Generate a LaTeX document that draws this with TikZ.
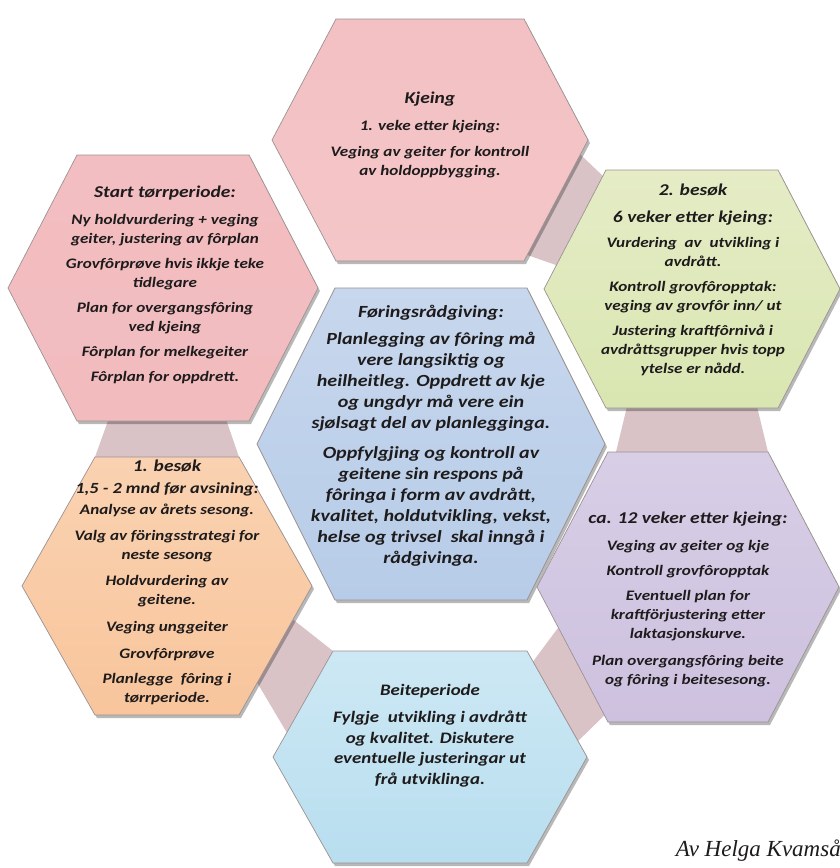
\documentclass[tikz,border=0pt]{standalone}
\usepackage{fontspec}
\newfontfamily\hexfont{Carlito}[FakeStretch=1.18]
\newfontfamily\authfont{Liberation Serif}
\usetikzlibrary{calc,shadows}
\definecolor{textc}{HTML}{1E1B1C}
\definecolor{bandc}{HTML}{D9C3C7}
\definecolor{edgec}{HTML}{9C9292}
\definecolor{kT}{HTML}{F3C0C3}\definecolor{kM}{HTML}{F8D7D8}\definecolor{kB}{HTML}{F4C6C8}
\definecolor{sT}{HTML}{F3BEC1}\definecolor{sM}{HTML}{F8D3D4}\definecolor{sB}{HTML}{F2BCBF}
\definecolor{gT}{HTML}{E5ECC6}\definecolor{gM}{HTML}{EEF3DA}\definecolor{gB}{HTML}{D9E6B1}
\definecolor{bT}{HTML}{C7D7ED}\definecolor{bM}{HTML}{D7E3F2}\definecolor{bB}{HTML}{B7CCE8}
\definecolor{oT}{HTML}{FAD2B1}\definecolor{oM}{HTML}{FDE2CC}\definecolor{oB}{HTML}{F8C59C}
\definecolor{pT}{HTML}{D8CEE6}\definecolor{pM}{HTML}{E6DFEE}\definecolor{pB}{HTML}{CDC1DF}
\definecolor{cT}{HTML}{CDE8F4}\definecolor{cM}{HTML}{DEF1F9}\definecolor{cB}{HTML}{B8DEEF}
\newcommand\mkhex[6]{%
  \coordinate (#1) at (#2,#3);
  \coordinate (#1-l) at ({#2-#4},#3);
  \coordinate (#1-tl) at ({#2-#5},{#3-#6});
  \coordinate (#1-tr) at ({#2+#5},{#3-#6});
  \coordinate (#1-r) at ({#2+#4},#3);
  \coordinate (#1-br) at ({#2+#5},{#3+#6});
  \coordinate (#1-bl) at ({#2-#5},{#3+#6});
}
\newcommand\drawhex[2]{\path[hexbox,top color=#2T, middle color=#2M, bottom color=#2B] (#1-l) -- (#1-tl) -- (#1-tr) -- (#1-r) -- (#1-br) -- (#1-bl) -- cycle;}
\newcommand\tsz{\fontsize{16.5}{19}\selectfont}
\tikzset{
  hexbox/.style={draw=edgec, line width=0.7pt,
    drop shadow={shadow xshift=2pt, shadow yshift=-3pt, opacity=0.28, fill=black}},
  band/.style={fill=bandc, draw=none},
  txt/.style={align=center, text=textc, inner sep=0pt, anchor=north,
    font=\hexfont\bfseries\itshape\fontsize{14.5}{19}\selectfont},
  bigtxt/.style={txt, font=\hexfont\bfseries\itshape\fontsize{17}{21}\selectfont},
  midtxt/.style={txt, font=\hexfont\bfseries\itshape\fontsize{16}{20.5}\selectfont},
}
\begin{document}
\begin{tikzpicture}[x=1pt,y=-1pt]
\clip (0,0) rectangle (840,868);
\fill[white] (0,0) rectangle (840,868);
% hexagon geometry: name, cx, cy, half-width, half-top, half-height
\mkhex{K}{430}{140}{158}{94}{121}
\mkhex{S}{163}{288}{155}{86}{133}
\mkhex{B}{692}{289}{148}{86}{119}
\mkhex{C}{431}{444}{174}{96}{156}
\mkhex{O}{167}{586}{145}{72}{129}
\mkhex{P}{688}{587}{151}{80}{135}
\mkhex{E}{430}{757}{157}{97}{106}
% connecting bands
\fill[band] ($(K-r)!0.12!(K-br)$) -- ($(B-tl)!0.05!(B-l)$) -- ($(B-tl)!0.8!(B-l)$) -- ($(K-r)!0.95!(K-br)$) -- cycle;
\fill[band] ($(B-bl)!0.12!(B-br)$) -- ($(B-bl)!0.88!(B-br)$) -- (P-tr) -- ($(P-tl)!0.05!(P-tr)$) -- cycle;
\fill[band] ($(P-l)!0.3!(P-bl)$) -- ($(P-l)!0.95!(P-bl)$) -- ($(E-tr)!0.85!(E-r)$) -- ($(E-tr)!0.1!(E-r)$) -- cycle;
\fill[band] ($(O-r)!0.26!(O-br)$) -- (E-tl) -- ($(E-tl)!0.77!(E-l)$) -- ($(O-r)!0.75!(O-br)$) -- cycle;
\fill[band] ($(S-bl)!0.18!(S-br)$) -- ($(S-bl)!0.87!(S-br)$) -- (O-tr) -- (O-tl) -- cycle;
% hexagons
\drawhex{K}{k}
\drawhex{S}{s}
\drawhex{B}{g}
\drawhex{C}{b}
\drawhex{O}{o}
\drawhex{P}{p}
\drawhex{E}{c}
% texts
\node[txt] (kjeing) at (430,92) {{\tsz Kjeing}\\[8pt]
  1. veke etter kjeing:\\[7pt]
  Veging av geiter for kontroll\\
  av holdoppbygging.};
\node[txt] (start) at (165,186) {{\tsz Start tørrperiode:}\\[8pt]
  Ny holdvurdering + veging\\
  geiter, justering av fôrplan\\[6pt]
  Grovfôrprøve hvis ikkje teke\\
  tidlegare\\[6pt]
  Plan for overgangsfôring\\
  ved kjeing\\[6pt]
  Fôrplan for melkegeiter\\[6pt]
  Fôrplan for oppdrett.};
\node[txt] (besok2) at (693,184) {{\tsz 2. besøk}\\[8pt]
  {\tsz 6 veker etter kjeing:}\\[6pt]
  Vurdering\ \ av\ \ utvikling i\\
  avdrått.\\[6pt]
  Kontroll grovfôropptak:\\
  veging av grovfôr inn/ ut\\[6pt]
  Justering kraftfôrnivå i\\
  avdråttsgrupper hvis topp\\
  ytelse er nådd.};
\node[bigtxt] (fr) at (431,305) {Føringsrådgiving:\\[6pt]
  Planlegging av fôring må\\
  vere langsiktig og\\
  heilheitleg. Oppdrett av kje\\
  og ungdyr må vere ein\\
  sjølsagt del av planlegginga.\\[9pt]
  Oppfylgjing og kontroll av\\
  geitene sin respons på\\
  fôringa i form av avdrått,\\
  kvalitet, holdutvikling, vekst,\\
  helse og trivsel\ \ skal inngå i\\
  rådgivinga.};
\node[txt] (besok1) at (167,460) {{\tsz 1. besøk}\\[3pt]
  {\fontsize{15.5}{19}\selectfont 1,5 - 2 mnd før avsining:}\\[2pt]
  Analyse av årets sesong.\\[7pt]
  Valg av föringsstrategi for\\
  neste sesong\\[7pt]
  Holdvurdering av\\
  geitene.\\[8pt]
  Veging unggeiter\\[8pt]
  Grovfôrprøve\\[6pt]
  Planlegge\ \ fôring i\\
  tørrperiode.};
\node[txt] (ca12) at (688,512) {{\tsz ca. 12 veker etter kjeing:}\\[8pt]
  Veging av geiter og kje\\[6pt]
  Kontroll grovfôropptak\\[6pt]
  Eventuell plan for\\
  kraftförjustering etter\\
  laktasjonskurve.\\[8pt]
  Plan overgangsfôring beite\\
  og fôring i beitesesong.};
\node[midtxt] (beite) at (430,684) {Beiteperiode\\[7pt]
  Fylgje\ \ utvikling i avdrått\\
  og kvalitet. Diskutere\\
  eventuelle justeringar ut\\
  frå utviklinga.};
\node[anchor=base east, inner sep=0pt, text=textc,
  font=\authfont\itshape\fontsize{23}{26}\selectfont] (author) at (841,856) {Av Helga Kvamså};
\end{tikzpicture}
\end{document}
